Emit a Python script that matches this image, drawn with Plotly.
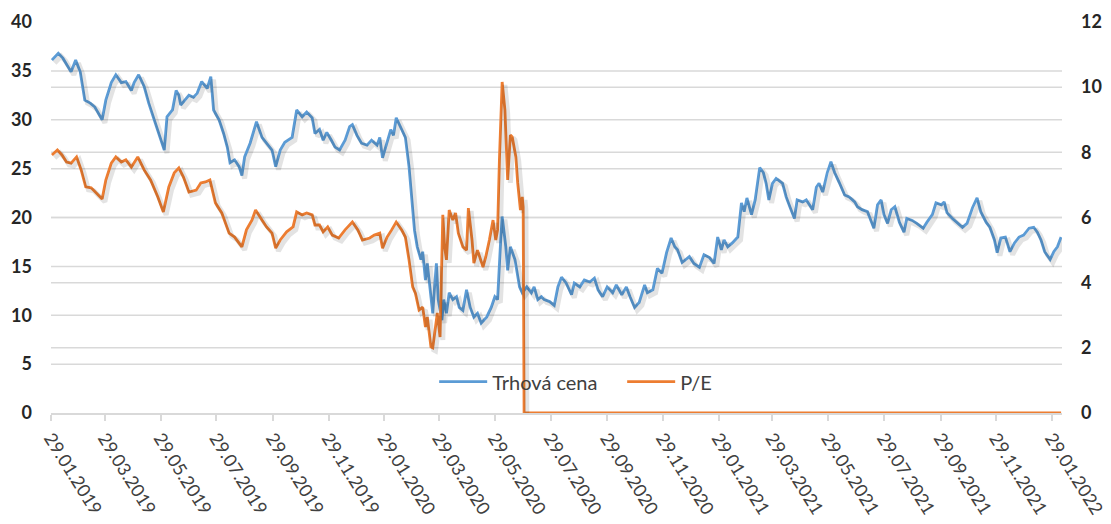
import pandas as pd
import plotly.graph_objects as go

start_date = "2019-01-29"

# Trhová cena (market price) – days since 29.01.2019 and values
price_days = [1, 8, 13, 19, 22, 27, 32, 37, 43, 48, 51, 56, 60, 66, 71, 77, 82, 88, 91, 96,
              102, 107, 113, 118, 124, 127, 133, 137, 140, 142, 145, 151, 156, 160, 165, 171, 175, 178, 184, 189,
              193, 196, 201, 206, 209, 212, 218, 225, 231, 236, 242, 246, 251, 256, 264, 269, 275, 280, 286, 289,
              294, 298, 302, 307, 311, 316, 322, 327, 330, 335, 340, 346, 351, 357, 360, 363, 368, 372, 375, 378,
              384, 388, 392, 395, 398, 401, 405, 407, 410, 412, 416, 418, 420, 422, 424, 428, 430, 433, 436, 440,
              444, 447, 451, 455, 459, 463, 467, 471, 477, 482, 486, 489, 492, 494, 498, 500, 503, 508, 513, 516,
              521, 526, 529, 533, 537, 540, 546, 551, 555, 559, 564, 570, 573, 579, 584, 590, 595, 599, 604, 609,
              615, 619, 625, 630, 634, 639, 644, 650, 653, 659, 664, 669, 674, 679, 683, 686, 691, 699, 704, 710,
              715, 721, 726, 730, 734, 737, 741, 746, 752, 756, 759, 762, 767, 771, 776, 780, 783, 786, 790, 794,
              801, 805, 809, 814, 817, 823, 827, 834, 838, 841, 845, 850, 854, 858, 863, 869, 874, 880, 883, 888,
              894, 898, 901, 905, 909, 912, 916, 920, 924, 929, 934, 937, 943, 948, 955, 959, 965, 969, 975, 978,
              981, 987, 992, 998, 1003, 1009, 1014, 1018, 1024, 1028, 1033, 1036, 1040, 1045, 1050, 1055, 1060, 1065, 1071, 1076,
              1080, 1084, 1088, 1094, 1098, 1102, 1106]
price_values = [36.1, 36.8, 36.3, 35.3, 34.9, 36.1, 34.9, 32.0, 31.7, 31.3, 30.8, 30.0, 32.0, 33.8, 34.6, 33.8, 33.9, 33.0, 33.8, 34.6,
                33.4, 31.7, 30.0, 28.6, 26.9, 30.3, 31.0, 33.0, 32.5, 31.5, 31.8, 32.5, 32.3, 32.7, 33.9, 33.2, 34.4, 31.0, 30.0, 28.6,
                27.2, 25.6, 25.9, 25.2, 24.3, 26.2, 27.6, 29.8, 28.2, 27.6, 26.9, 25.2, 26.9, 27.7, 28.2, 31.0, 30.3, 30.8, 30.2, 28.6,
                29.0, 27.9, 28.7, 27.9, 27.2, 26.9, 27.9, 29.3, 29.5, 28.4, 27.6, 27.4, 27.9, 27.4, 28.2, 26.1, 27.6, 29.0, 28.4, 30.2,
                29.0, 28.2, 25.2, 21.8, 18.7, 17.0, 15.7, 16.5, 13.6, 15.3, 12.3, 10.2, 12.9, 15.3, 11.6, 9.5, 11.6, 10.2, 12.3, 11.6,
                11.9, 10.8, 10.5, 12.6, 10.8, 9.8, 10.2, 9.2, 9.8, 10.8, 11.9, 11.6, 17.0, 20.1, 17.0, 14.6, 17.0, 15.7, 12.9, 12.3,
                12.9, 12.3, 12.9, 11.6, 11.9, 11.6, 11.4, 11.0, 12.9, 13.9, 13.3, 12.1, 13.3, 12.9, 13.6, 13.4, 13.8, 12.6, 11.9, 12.9,
                12.3, 13.1, 12.1, 12.9, 11.9, 10.8, 11.3, 13.1, 12.3, 12.6, 14.8, 14.3, 16.4, 17.9, 17.0, 16.7, 15.4, 16.0, 15.3, 14.9,
                16.2, 15.9, 15.3, 18.0, 16.7, 17.7, 17.0, 17.4, 18.0, 21.5, 20.6, 22.0, 20.3, 21.8, 25.1, 24.6, 23.5, 21.8, 23.5, 24.0,
                23.5, 22.1, 21.1, 19.9, 21.8, 21.6, 21.8, 20.8, 23.1, 23.5, 22.6, 24.6, 25.7, 24.6, 23.6, 22.3, 22.1, 21.6, 21.1, 20.8,
                20.6, 19.7, 18.9, 21.3, 21.8, 20.3, 19.4, 20.8, 21.1, 19.5, 18.5, 19.9, 19.7, 19.4, 18.9, 19.5, 20.3, 21.5, 21.3, 21.6,
                20.5, 19.9, 19.5, 19.0, 19.4, 21.0, 22.0, 20.6, 19.5, 19.0, 17.7, 16.4, 17.9, 18.0, 16.5, 17.4, 18.0, 18.2, 18.9, 19.0,
                18.5, 17.7, 16.5, 15.7, 16.5, 17.0, 18.0]

# P/E – days since 29.01.2019 and values
pe_days = [1, 7, 12, 17, 22, 28, 33, 38, 44, 49, 56, 60, 66, 71, 77, 82, 88, 95, 102, 109,
           117, 123, 129, 135, 140, 145, 151, 159, 164, 169, 174, 180, 187, 195, 201, 209, 214, 220, 224, 231,
           236, 242, 246, 251, 258, 265, 269, 275, 280, 286, 289, 294, 298, 303, 308, 315, 322, 330, 336, 341,
           349, 354, 360, 363, 368, 373, 378, 384, 388, 392, 396, 399, 403, 407, 410, 412, 416, 418, 421, 423,
           426, 428, 429, 431, 433, 436, 440, 443, 446, 451, 455, 457, 461, 463, 467, 473, 476, 480, 484, 487,
           489, 491, 493, 494, 497, 499, 500, 503, 505, 509, 511, 514, 516, 517, 518, 1106]
pe_values = [7.92, 8.07, 7.92, 7.70, 7.67, 7.86, 7.46, 6.94, 6.91, 6.78, 6.57, 7.15, 7.67, 7.86, 7.70, 7.77, 7.55, 7.86, 7.46, 7.15,
             6.63, 6.17, 6.94, 7.37, 7.52, 7.24, 6.78, 6.84, 7.06, 7.09, 7.15, 6.45, 6.14, 5.52, 5.40, 5.10, 5.62, 5.92, 6.23, 5.92,
             5.71, 5.52, 5.06, 5.31, 5.56, 5.71, 6.17, 6.08, 6.14, 6.08, 5.77, 5.77, 5.56, 5.71, 5.46, 5.37, 5.62, 5.86, 5.62, 5.31,
             5.37, 5.46, 5.52, 5.06, 5.40, 5.62, 5.86, 5.62, 5.40, 4.70, 3.87, 3.68, 3.16, 3.25, 2.64, 2.95, 2.03, 2.00, 2.76, 3.07,
             2.33, 4.70, 6.08, 5.10, 4.70, 6.23, 5.92, 6.14, 5.52, 5.10, 5.00, 6.29, 5.31, 4.60, 5.00, 4.48, 4.79, 5.31, 5.92, 5.31,
             5.62, 7.77, 9.61, 10.16, 9.30, 8.16, 7.15, 8.53, 8.47, 7.86, 7.06, 6.23, 6.63, 6.32, 0.0, 0.0]

tick_labels = ["29.01.2019", "29.03.2019", "29.05.2019", "29.07.2019", "29.09.2019", "29.11.2019",
               "29.01.2020", "29.03.2020", "29.05.2020", "29.07.2020", "29.09.2020", "29.11.2020",
               "29.01.2021", "29.03.2021", "29.05.2021", "29.07.2021", "29.09.2021", "29.11.2021",
               "29.01.2022"]
left_ticks = [0, 5, 10, 15, 20, 25, 30, 35, 40]
right_ticks = [0, 2, 4, 6, 8, 10, 12]
end_date = "2022-02-09"

t0 = pd.Timestamp(start_date)
price_dates = t0 + pd.to_timedelta(price_days, unit="D")
pe_dates = t0 + pd.to_timedelta(pe_days, unit="D")
tick_dates = pd.to_datetime(tick_labels, format="%d.%m.%Y")

BLUE = "#5B9BD5"
ORANGE = "#ED7D31"
GRID = "#D9D9D9"
SHADOW = "rgba(0,0,0,0.11)"
FONT = "Lato"

# soft drop-shadow (as in the Excel original): same series on hidden axes offset a few px
x_lo, x_hi = pd.Timestamp(start_date), pd.Timestamp(end_date)
sh_dx = pd.Timedelta(hours=72)   # ~3 px to the right
sh_left = 0.3                    # ~3 px down on the 0-40 axis
sh_right = 0.09                  # ~3 px down on the 0-12 axis

fig = go.Figure()
fig.add_trace(go.Scatter(x=price_dates, y=price_values, mode="lines", showlegend=False, hoverinfo="skip",
                         line=dict(color=SHADOW, width=5), xaxis="x2", yaxis="y3"))
fig.add_trace(go.Scatter(x=pe_dates, y=pe_values, mode="lines", showlegend=False, hoverinfo="skip",
                         line=dict(color=SHADOW, width=5), xaxis="x2", yaxis="y4"))
fig.add_trace(go.Scatter(x=price_dates, y=price_values, name="Trhová cena", mode="lines",
                         line=dict(color=BLUE, width=2.8), xaxis="x", yaxis="y"))
fig.add_trace(go.Scatter(x=pe_dates, y=pe_values, name="P/E", mode="lines",
                         line=dict(color=ORANGE, width=2.8), xaxis="x", yaxis="y2"))

shapes = []
for v in left_ticks[1:-1]:
    shapes.append(dict(type="line", xref="paper", x0=0, x1=1, yref="y", y0=v, y1=v,
                       line=dict(color=GRID, width=1.5), layer="below"))
for v in right_ticks[1:-1]:
    shapes.append(dict(type="line", xref="paper", x0=0, x1=1, yref="y2", y0=v, y1=v,
                       line=dict(color=GRID, width=1.5), layer="below"))

fig.update_layout(
    width=1111, height=524,
    margin=dict(l=51, r=49, t=22, b=111),
    paper_bgcolor="white", plot_bgcolor="rgba(0,0,0,0)",
    font=dict(family=FONT, color="#404040"),
    shapes=shapes,
    showlegend=True,
    legend=dict(orientation="h", x=0.379, xanchor="left", y=0.08, yanchor="middle",
                bgcolor="rgba(0,0,0,0)", font=dict(size=20, color="#404040", family=FONT),
                itemwidth=48, entrywidth=125, entrywidthmode="pixels", tracegroupgap=0),
    xaxis=dict(type="date", range=[x_lo, x_hi], tickvals=tick_dates, ticktext=tick_labels,
               tickangle=58, tickfont=dict(size=18, color="#404040", family=FONT),
               showgrid=False, zeroline=False, showline=True, linecolor=GRID, linewidth=1.5,
               ticks="outside", ticklen=6, tickcolor=GRID, tickwidth=1.5, automargin=False),
    xaxis2=dict(type="date", range=[x_lo - sh_dx, x_hi - sh_dx], overlaying="x", visible=False),
    yaxis=dict(range=[0, 40], tickvals=left_ticks, showgrid=False, zeroline=False, showline=False,
               tickfont=dict(size=18, color="#262626", family=FONT, weight="bold"),
               ticklabelstandoff=18, automargin=False),
    yaxis2=dict(range=[0, 12], tickvals=right_ticks, overlaying="y", side="right",
                showgrid=False, zeroline=False, showline=False,
                tickfont=dict(size=18, color="#262626", family=FONT, weight="bold"),
                ticklabelstandoff=18, automargin=False),
    yaxis3=dict(range=[sh_left, 40 + sh_left], overlaying="y", visible=False),
    yaxis4=dict(range=[sh_right, 12 + sh_right], overlaying="y", visible=False),
)

# remove the browser's default 8px body margin so the 1111x524 figure fills the window exactly
fig.write_html("out.html", config={"displayModeBar": False},
               post_script="document.body.style.margin='0px';")
